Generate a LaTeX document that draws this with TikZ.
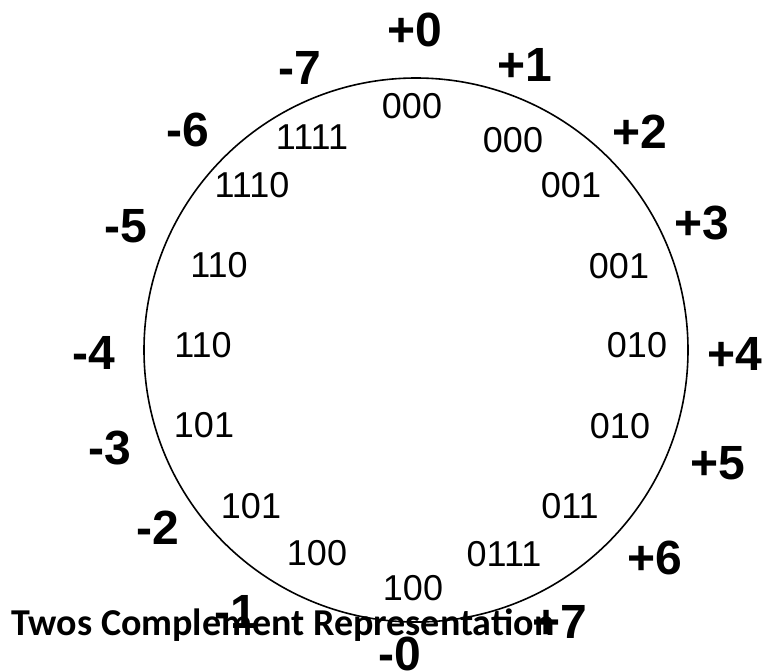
\documentclass[tikz,border=0pt]{standalone}
\usepackage{fontspec}
\newfontfamily\digfont{Liberation Sans}
\newfontfamily\titlefont{Carlito}
\tikzset{
  sign/.style={inner sep=0pt, font=\digfont\bfseries\fontsize{48}{57}\selectfont},
  bits/.style={inner sep=0pt, font=\digfont\fontsize{36}{43}\selectfont},
  ttl/.style={inner sep=0pt, anchor=base west, font=\titlefont\bfseries\fontsize{38}{45}\selectfont},
  ring/.style={draw=black, line width=1.6pt}
}
\begin{document}
\begin{tikzpicture}[x=1pt,y=-1pt]
\useasboundingbox (0,0) rectangle (763,670);
\node[ring, circle, minimum size=544pt, inner sep=0pt] (wheel) at (416,350) {};
% inner bit patterns
\node[bits] (b00) at (412,106) {000};
\node[bits] (b01) at (513,140) {000};
\node[bits] (b02) at (571,185) {001};
\node[bits] (b03) at (619,266) {001};
\node[bits] (b04) at (637,345) {010};
\node[bits] (b05) at (620,426) {010};
\node[bits] (b06) at (570,506) {011};
\node[bits] (b07) at (504,554) {0111};
\node[bits] (b08) at (413,588) {100};
\node[bits] (b09) at (317,553) {100};
\node[bits] (b10) at (251,506) {101};
\node[bits] (b11) at (204,425) {101};
\node[bits] (b12) at (203,345) {110};
\node[bits] (b13) at (219,265) {110};
\node[bits] (b14) at (252,185) {1110};
\node[bits] (b15) at (312,137) {1111};
% title
\node[ttl] (title) at (11,635) {Twos Complement Representation};
% signed values
\node[sign] (p0) at (415,30) {+0};
\node[sign] (p1) at (525,65) {+1};
\node[sign] (p2) at (640,132) {+2};
\node[sign] (p3) at (702,223) {+3};
\node[sign] (p4) at (735,354) {+4};
\node[sign] (p5) at (718,463) {+5};
\node[sign] (p6) at (655,558) {+6};
\node[sign] (p7) at (560,622) {+7};
\node[sign] (m0) at (400,654) {-0};
\node[sign] (m1) at (236,612) {-1};
\node[sign] (m2) at (158,528) {-2};
\node[sign] (m3) at (110,448) {-3};
\node[sign] (m4) at (94,353) {-4};
\node[sign] (m5) at (126,226) {-5};
\node[sign] (m6) at (188,130) {-6};
\node[sign] (m7) at (300,68) {-7};
\end{tikzpicture}
\end{document}
